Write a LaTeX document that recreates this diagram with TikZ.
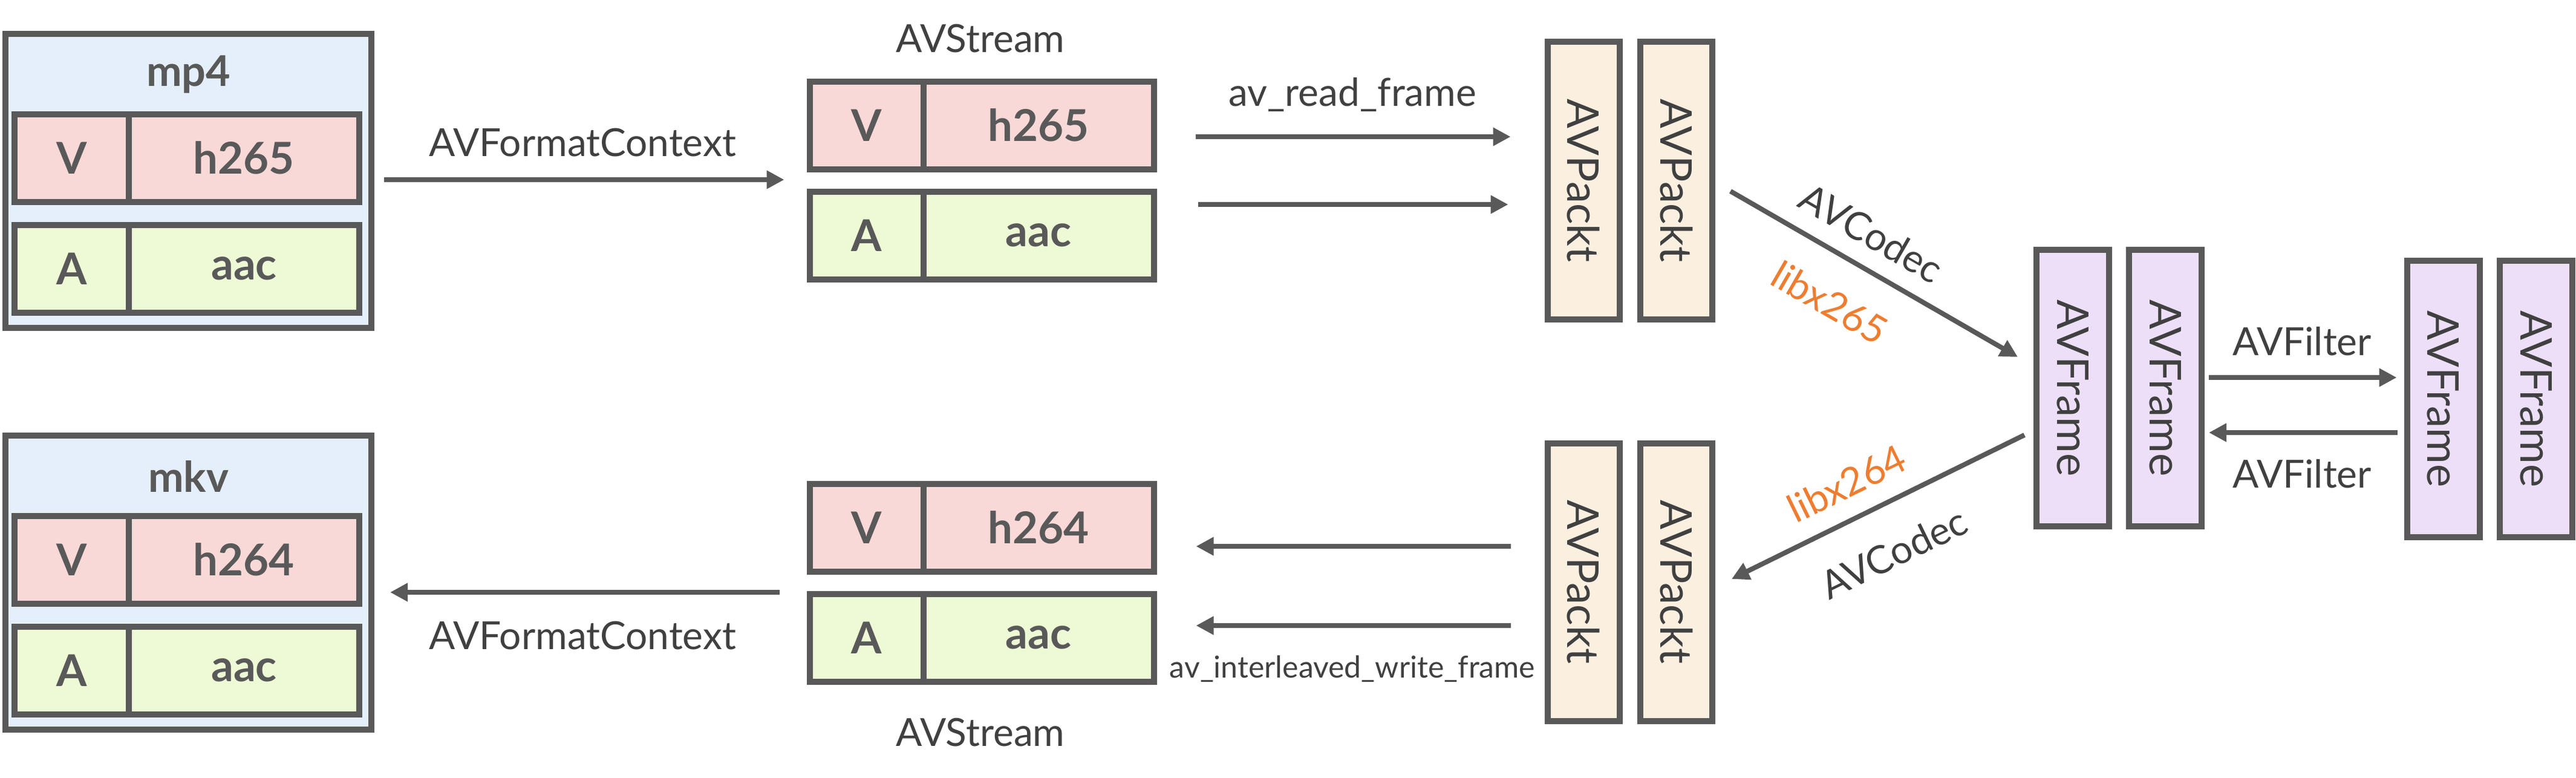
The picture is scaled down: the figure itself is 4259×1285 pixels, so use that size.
\documentclass[tikz,border=0pt]{standalone}
\usepackage{fontspec}
\setmainfont{Lato}
\usepackage{tikz}
\usetikzlibrary{arrows.meta,calc}

\definecolor{edge}{RGB}{89,89,89}
\definecolor{ink}{RGB}{64,64,64}
\definecolor{fmtfill}{RGB}{229,239,251}
\definecolor{vfill}{RGB}{248,217,216}
\definecolor{afill}{RGB}{238,249,213}
\definecolor{pktfill}{RGB}{251,239,224}
\definecolor{frmfill}{RGB}{237,223,247}
\definecolor{libcol}{RGB}{237,125,49}

\tikzset{
  fmtbox/.style={draw=edge, line width=2pt, fill=fmtfill, minimum width=121pt, minimum height=97.2pt, inner sep=0pt},
  title/.style={text=edge, inner sep=0pt, font=\fontsize{14}{16}\selectfont\bfseries},
  cell/.style={draw=edge, line width=2pt, minimum height=29pt, inner sep=0pt, text=edge, font=\fontsize{14.5}{17}\selectfont\bfseries},
  vtag/.style={cell, fill=vfill, minimum width=37.8pt},
  vcodec/.style={cell, fill=vfill, minimum width=76.2pt},
  atag/.style={cell, fill=afill, minimum width=37.8pt},
  acodec/.style={cell, fill=afill, minimum width=76.2pt},
  pkt/.style={draw=edge, line width=2pt, fill=pktfill, minimum width=23.8pt, minimum height=91.8pt, inner sep=0pt, text=ink, font=\fontsize{14.5}{17}\selectfont},
  frm/.style={draw=edge, line width=2pt, fill=frmfill, minimum width=24pt, minimum height=91.4pt, inner sep=0pt, text=ink, font=\fontsize{14.5}{17}\selectfont},
  lbl/.style={text=ink, inner sep=0pt, font=\fontsize{12.8}{15}\selectfont},
  lib/.style={text=libcol, inner sep=0pt, font=\fontsize{12.8}{15}\selectfont},
  arr/.style={draw=edge, line width=1.6pt, -{Triangle[length=5.8pt,width=5.8pt]}}
}

\begin{document}
\begin{tikzpicture}[x=0.2pt,y=0.2pt,yscale=-1,xscale=1]
\useasboundingbox (0,0) rectangle (4259,1285);

%Shape: Rectangle [mp4]
\draw (311.5,299) node (fmtin) [fmtbox] {};
% Text Node
\draw (311.5,123) node (tin) [title] {mp4};
%Shape: Rectangle
\draw (118.5,261) node (inv) [vtag] {V};
\draw (403.5,261) node (incv) [vcodec] {h265};
\draw (118.5,444) node (ina) [atag] {A};
\draw (403.5,444) node (inca) [acodec] {aac};

%Shape: Rectangle [mkv]
\draw (311.5,963) node (fmtout) [fmtbox] {};
% Text Node
\draw (311.5,787) node (tout) [title] {mkv};
%Shape: Rectangle
\draw (118.5,925) node (outv) [vtag] {V};
\draw (403.5,925) node (outcv) [vcodec] {h264};
\draw (118.5,1108) node (outa) [atag] {A};
\draw (403.5,1108) node (outca) [acodec] {aac};

%Shape: Rectangle [AVStream in]
\draw (1433,207) node (sv) [vtag] {V};
\draw (1717,207) node (scv) [vcodec] {h265};
\draw (1433,389) node (sa) [atag] {A};
\draw (1717,389) node (sca) [acodec] {aac};
% Text Node
\draw (1621,64) node (tsin) [lbl] {AVStream};

%Shape: Rectangle [AVStream out]
\draw (1433,872) node (osv) [vtag] {V};
\draw (1717,872) node (oscv) [vcodec] {h264};
\draw (1433,1054) node (osa) [atag] {A};
\draw (1717,1054) node (osca) [acodec] {aac};
% Text Node
\draw (1621,1211) node (tsout) [lbl] {AVStream};

%Shape: Rectangle [AVPackt]
\draw (2618,298.5) node (pk1) [pkt] {\rotatebox{-90}{AVPackt}};
\draw (2771.5,298.5) node (pk2) [pkt] {\rotatebox{-90}{AVPackt}};
\draw (2618,962) node (pk3) [pkt] {\rotatebox{-90}{AVPackt}};
\draw (2771.5,962) node (pk4) [pkt] {\rotatebox{-90}{AVPackt}};

%Shape: Rectangle [AVFrame]
\draw (3427,641.5) node (fr1) [frm] {\rotatebox{-90}{AVFrame}};
\draw (3580,641.5) node (fr2) [frm] {\rotatebox{-90}{AVFrame}};
\draw (4039.5,659.5) node (fr3) [frm] {\rotatebox{-90}{AVFrame}};
\draw (4193,659.5) node (fr4) [frm] {\rotatebox{-90}{AVFrame}};

%Straight Lines
\draw [arr] ($(fmtin.east)+(16,-2)$) -- ($(sv.west |- fmtin.east)+(-37,-2)$);
\draw [arr] ($(osv.west |- fmtout.east)+(-45,16)$) -- ($(fmtout.east)+(26,16)$);

%Straight Lines
\draw [arr] ($(scv.east)+(64,19)$) -- ($(pk1.west |- scv.east)+(-56,19)$);
\draw [arr] ($(sca.east)+(68,-51)$) -- ($(pk1.west |- sca.east)+(-60,-51)$);
\draw [arr] ($(pk3.west |- oscv.east)+(-56,31)$) -- ($(oscv.east)+(65,31)$);
\draw [arr] ($(pk3.west |- osca.east)+(-56,-20)$) -- ($(osca.east)+(65,-20)$);

%Straight Lines
\draw [arr] ($(pk2.east)+(25,17.5)$) -- ($(fr1.west)+(-26,-51.5)$);
\draw [arr] ($(fr1.west)+(-15,77.5)$) -- ($(pk4.east)+(27,-5)$);

%Straight Lines
\draw [arr] ($(fr2.east)+(7,-17.5)$) -- ($(fr3.west)+(-12,-35.5)$);
\draw [arr] ($(fr3.west)+(-11,55.5)$) -- ($(fr2.east)+(7,73.5)$);

% Text Node
\draw (963,236) node (cin) [lbl] {AVFormatContext};
% Text Node
\draw (963,1051) node (cout) [lbl] {AVFormatContext};
% Text Node
\draw (2236,156) node (rd) [lbl] {av\_read\_frame};
% Text Node
\draw (2236,1106) node (wr) [lbl, font=\fontsize{10}{12}\selectfont] {av\_interleaved\_write\_frame};
% Text Node
\draw (3094,385) node (dec) [lbl, rotate=-30] {AVCodec};
% Text Node
\draw (3025,500) node (l265) [lib, rotate=-30] {libx265};
% Text Node
\draw (3053,799) node (l264) [lib, rotate=26] {libx264};
% Text Node
\draw (3131,914) node (enc) [lbl, rotate=26] {AVCodec};
% Text Node
\draw (3806,564) node (fto) [lbl] {AVFilter};
% Text Node
\draw (3806,783) node (ffrom) [lbl] {AVFilter};

\end{tikzpicture}
\end{document}
